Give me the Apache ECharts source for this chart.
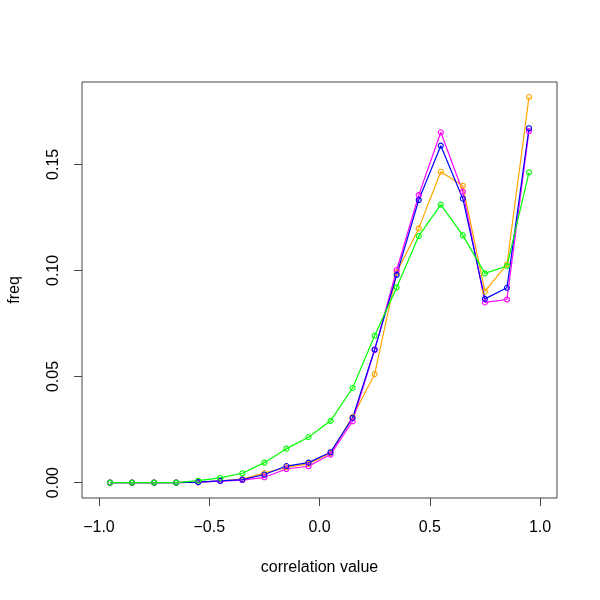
<!DOCTYPE html>
<html>
<head>
<meta charset="utf-8">
<script src="https://cdn.jsdelivr.net/npm/echarts@6/dist/echarts.min.js"></script>
<style>html,body{margin:0;padding:0;background:#fff}#c{width:600px;height:600px}</style>
</head>
<body>
<div id="c"></div>
<script>
var xVals = [-0.95,-0.85,-0.75,-0.65,-0.55,-0.45,-0.35,-0.25,-0.15,-0.05,0.05,0.15,0.25,0.35,0.45,0.55,0.65,0.75,0.85,0.95];
var orangeVals  = [0,0,0,0,0.0002,0.0008,0.0016,0.0045,0.0072,0.0088,0.0140,0.0310,0.0511,0.0990,0.1198,0.1465,0.1399,0.0901,0.1028,0.1817];
var magentaVals = [0,0,0,0,0.0002,0.0007,0.0012,0.0025,0.0064,0.0077,0.0132,0.0289,0.0625,0.1002,0.1355,0.1651,0.1371,0.0849,0.0863,0.1657];
var blueVals    = [0,0,0,0,0.0002,0.0008,0.0014,0.0038,0.0078,0.0094,0.0143,0.0305,0.0627,0.0979,0.1332,0.1588,0.1338,0.0866,0.0918,0.1670];
var greenVals   = [0,0,0,0,0.0009,0.0022,0.0044,0.0094,0.0160,0.0214,0.0291,0.0446,0.0692,0.0920,0.1162,0.1310,0.1165,0.0986,0.1021,0.1462];
var xTicks = [-1.0,-0.5,0.0,0.5,1.0];
var yTicks = [0.00,0.05,0.10,0.15];
var xTitle = 'correlation value';
var yTitle = 'freq';

function pairs(v){ return xVals.map(function(x,i){ return [x, v[i]]; }); }
function mkSeries(name, vals, color){
  return {
    name: name, type: 'line', data: pairs(vals),
    symbol: 'circle', symbolSize: 5,
    lineStyle: {color: color, width: 1.2},
    itemStyle: {color: 'rgba(0,0,0,0)', borderColor: color, borderWidth: 1.1},
    emphasis: {disabled: true}
  };
}
var font = '"Liberation Sans", Arial, sans-serif';
var chart = echarts.init(document.getElementById('c'), null, {renderer: 'canvas'});
chart.setOption({
  animation: false,
  backgroundColor: '#ffffff',
  grid: {left: 82, right: 43, top: 82, bottom: 102, show: true, borderColor: '#444', borderWidth: 1, backgroundColor: 'transparent', containLabel: false, outerBoundsMode: 'none'},
  xAxis: {
    type: 'value', min: -1.077, max: 1.077,
    name: xTitle, nameLocation: 'middle', nameGap: 62,
    nameTextStyle: {fontFamily: font, fontSize: 16, color: '#000'},
    axisLine: {show: false, onZero: false},
    axisTick: {show: true, inside: false, length: 8, lineStyle: {color: '#444'}, customValues: xTicks},
    axisLabel: {fontFamily: font, fontSize: 16, color: '#000', margin: 22, customValues: xTicks,
      formatter: function(v){ return (v < 0 ? '\u2212' : '') + Math.abs(v).toFixed(1); }},
    splitLine: {show: false}
  },
  yAxis: {
    type: 'value', min: -0.00726, max: 0.1888,
    name: yTitle, nameLocation: 'middle', nameGap: 59, nameRotate: 90,
    nameTextStyle: {fontFamily: font, fontSize: 16, color: '#000'},
    axisLine: {show: false, onZero: false},
    axisTick: {show: true, inside: false, length: 8, lineStyle: {color: '#444'}, customValues: yTicks},
    axisLabel: {fontFamily: font, fontSize: 16, color: '#000', margin: 20, rotate: 90, customValues: yTicks,
      formatter: function(v){ return v.toFixed(2); }},
    splitLine: {show: false}
  },
  series: [
    mkSeries('orange', orangeVals, '#FFA500'),
    mkSeries('magenta', magentaVals, '#FF00FF'),
    mkSeries('blue', blueVals, '#0000FF'),
    mkSeries('green', greenVals, '#00FF00')
  ]
});
</script>
</body>
</html>
